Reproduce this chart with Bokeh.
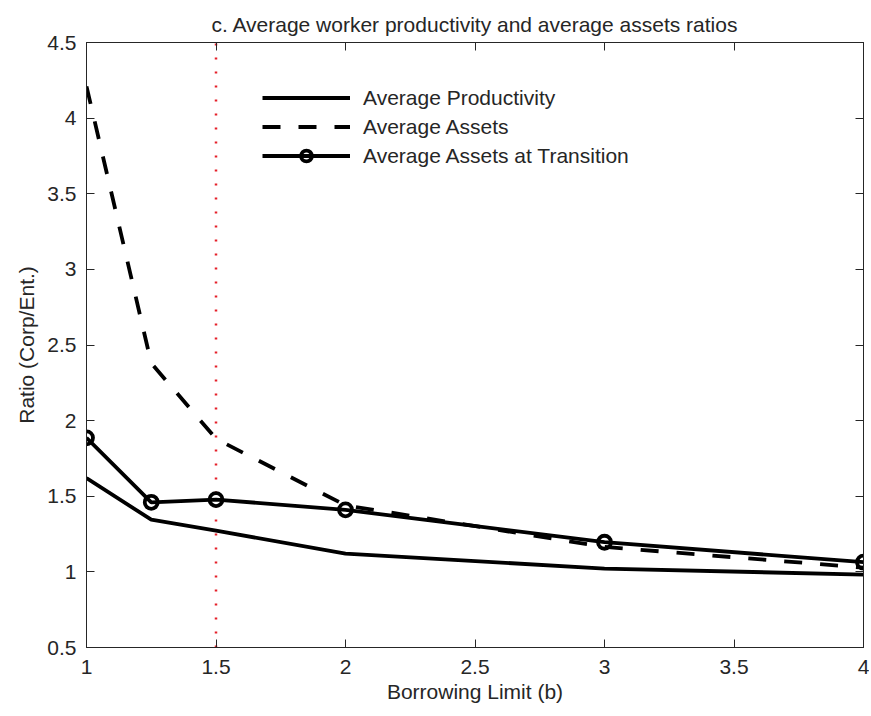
from bokeh.plotting import figure
from bokeh.models import FixedTicker, LinearAxis, Range1d, Legend, LegendItem, CustomJSTickFormatter
from bokeh.embed import file_html
from bokeh.resources import INLINE

# ---- data ----
borrowing_limit = [1, 1.25, 1.5, 2, 3, 4]
avg_productivity = [1.62, 1.345, 1.273, 1.12, 1.022, 0.982]
avg_assets = [4.21, 2.38, 1.88, 1.44, 1.165, 1.028]
avg_assets_transition = [1.886, 1.46, 1.478, 1.41, 1.196, 1.064]

vline_x = [1.5, 1.5]
vline_y = [0.5, 4.5]

x_ticks = [1, 1.5, 2, 2.5, 3, 3.5, 4]
x_tick_labels = ["1", "1.5", "2", "2.5", "3", "3.5", "4"]
y_ticks = [0.5, 1, 1.5, 2, 2.5, 3, 3.5, 4, 4.5]
y_tick_labels = ["0.5", "1", "1.5", "2", "2.5", "3", "3.5", "4", "4.5"]

FONT = "Liberation Sans"
TXT = "#262626"
FS = "21px"

p = figure(output_backend="svg", toolbar_location=None,
           x_range=Range1d(1, 4), y_range=Range1d(0.5, 4.5),
           min_border_left=86, min_border_right=6, min_border_top=42, min_border_bottom=66,
           frame_width=777, frame_height=605,
           title="c. Average worker productivity and average assets ratios")

p.title.text_font = FONT
p.title.text_font_size = FS
p.title.text_font_style = "normal"
p.title.text_color = TXT
p.title.align = "center"
p.title.standoff = 14

p.xgrid.visible = False
p.ygrid.visible = False
p.outline_line_color = TXT
p.outline_line_width = 1

def style_axis(ax, ticks, labels, show_labels=True):
    ax.ticker = FixedTicker(ticks=ticks)
    ax.major_tick_in = 8
    ax.major_tick_out = 0
    ax.minor_tick_in = 0
    ax.minor_tick_out = 0
    ax.axis_line_color = TXT
    ax.major_tick_line_color = TXT
    ax.major_label_text_font = FONT
    ax.major_label_text_color = TXT
    ax.axis_label_text_font = FONT
    ax.axis_label_text_font_size = FS
    ax.axis_label_text_font_style = "normal"
    ax.axis_label_text_color = TXT
    if show_labels:
        ax.major_label_overrides = {t: l for t, l in zip(ticks, labels)}
        ax.major_label_text_font_size = FS
    else:
        ax.formatter = CustomJSTickFormatter(code="return '';")
        ax.major_label_text_font_size = "1px"
        ax.major_label_standoff = 0
        ax.axis_label_standoff = 0

style_axis(p.xaxis[0], x_ticks, x_tick_labels)
style_axis(p.yaxis[0], y_ticks, y_tick_labels)
p.xaxis[0].axis_label = "Borrowing Limit (b)"
p.yaxis[0].axis_label = "Ratio (Corp/Ent.)"
p.xaxis[0].major_label_standoff = 12
p.xaxis[0].axis_label_standoff = 3
p.yaxis[0].major_label_standoff = 10
p.yaxis[0].axis_label_standoff = 6

top_ax = LinearAxis()
right_ax = LinearAxis()
style_axis(top_ax, x_ticks, x_tick_labels, show_labels=False)
style_axis(right_ax, y_ticks, y_tick_labels, show_labels=False)
p.add_layout(top_ax, "above")
p.add_layout(right_ax, "right")

# red dotted vertical line
p.line(vline_x, vline_y, line_color="#e5202a", line_width=2.5, line_dash="2 12")

LW = 3.8
r_prod = p.line(borrowing_limit, avg_productivity, line_color="black", line_width=LW)
r_assets = p.line(borrowing_limit, avg_assets, line_color="black", line_width=LW, line_dash="18 18")
r_trans = p.line(borrowing_limit, avg_assets_transition, line_color="black", line_width=LW)
r_trans_m = p.scatter(borrowing_limit, avg_assets_transition, marker="circle", size=13,
                      fill_color=None, line_color="black", line_width=3.8)

legend = Legend(items=[
    LegendItem(label="Average Productivity", renderers=[r_prod]),
    LegendItem(label="Average Assets", renderers=[r_assets]),
    LegendItem(label="Average Assets at Transition", renderers=[r_trans, r_trans_m]),
], location=(176, 478))
legend.glyph_width = 88
legend.glyph_height = 27
legend.label_height = 27
legend.spacing = 2
legend.padding = 0
legend.margin = 0
legend.label_standoff = 13
legend.label_text_font = FONT
legend.label_text_font_size = FS
legend.label_text_color = TXT
legend.border_line_color = None
legend.background_fill_color = None
p.add_layout(legend, "center")

open("out.html", "w").write(file_html(p, INLINE))
